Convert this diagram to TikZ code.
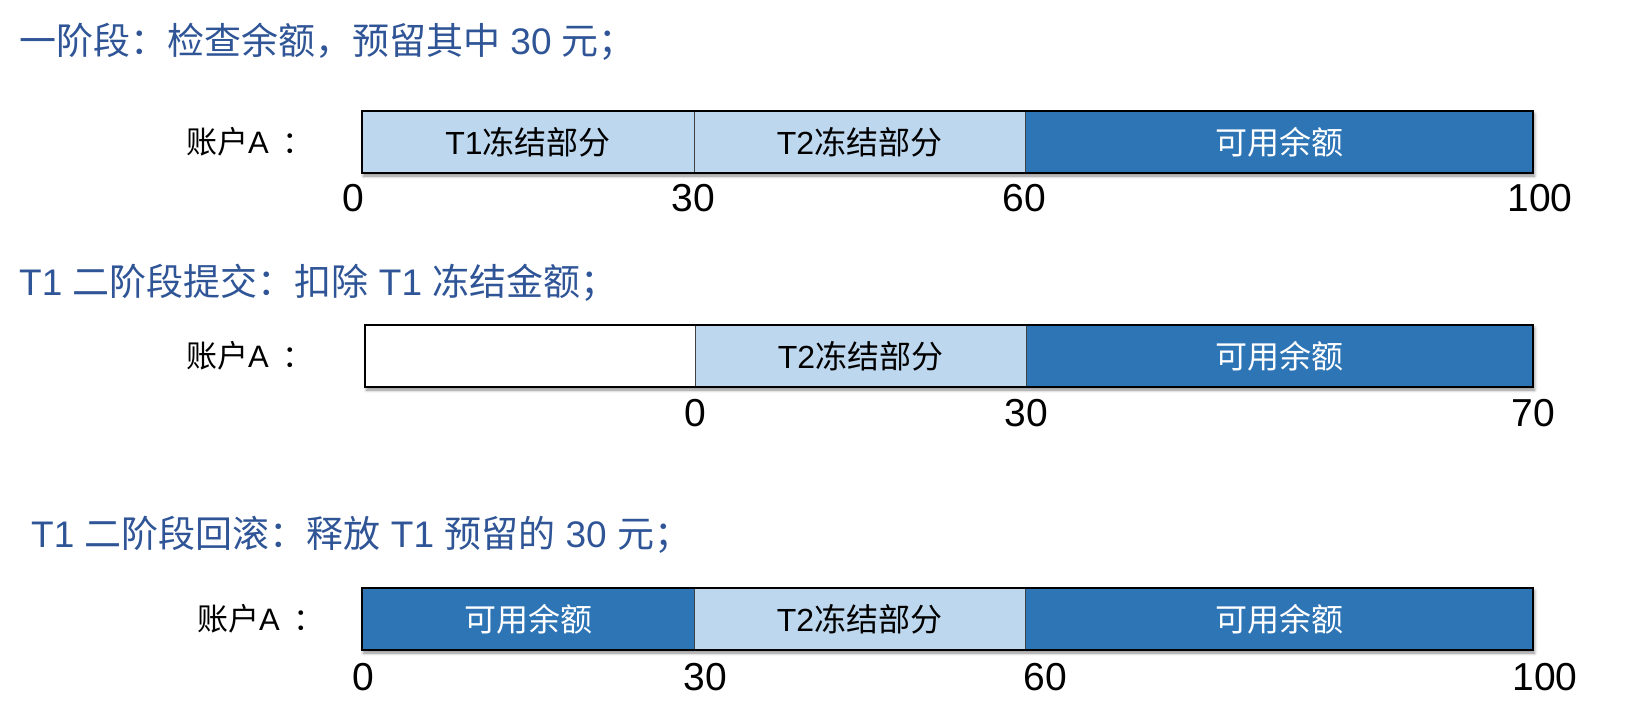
\documentclass[tikz,border=0pt]{standalone}
\usepackage{fontspec}
\setmainfont{Liberation Sans}
\newfontfamily\cjk{Noto Sans CJK SC}
\newfontfamily\numfont{Liberation Sans}
\usetikzlibrary{shadows.blur}
\definecolor{lightseg}{HTML}{BDD7EE}
\definecolor{darkseg}{HTML}{2E75B6}
\definecolor{titleblue}{HTML}{2F5597}
\tikzset{
  frame/.style={draw=black, line width=1.6pt, inner sep=0pt, outer sep=0pt, anchor=north west,
    minimum height=62pt, blur shadow={shadow xshift=1.5pt, shadow yshift=-3pt, shadow blur radius=3pt, shadow opacity=45}},
  seg/.style={draw=black!75, line width=0.8pt, inner sep=0pt, outer sep=0pt, anchor=north west,
    minimum height=62pt, font=\fontsize{32}{34}\selectfont},
  lseg/.style={seg, fill=lightseg, text=black},
  dseg/.style={seg, fill=darkseg, text=white},
  wseg/.style={seg, fill=white},
  title/.style={anchor=west, inner sep=0pt, text=titleblue, font=\fontsize{37}{40}\selectfont},
  acct/.style={anchor=west, inner sep=0pt, text=black, font=\fontsize{31}{34}\selectfont},
  num/.style={inner sep=0pt, text=black, font=\fontsize{39}{42}\numfont},
}
\begin{document}
\begin{tikzpicture}[x=1pt,y=-1pt]
\useasboundingbox (0,0) rectangle (1627,716);
% ---- row 1
\node[title] (t1) at (19,42) {{\cjk 一阶段：检查余额，预留其中} 30 {\cjk 元；}};
\node[acct] (a1) at (186,142) {{\cjk 账户}A\, {\cjk ：}};
\node[frame, minimum width=1171pt] (f1) at (362,111) {};
\node[lseg, minimum width=332pt] (s11) at (362,111) {T1{\cjk 冻结部分}};
\node[lseg, minimum width=331pt] (s12) at (694,111) {T2{\cjk 冻结部分}};
\node[dseg, minimum width=508pt] (s13) at (1025,111) {\cjk 可用余额};
\draw[line width=1.6pt] (f1.north west) rectangle (f1.south east);
\node[num] (n10) at (353,198) {0};
\node[num] (n11) at (693,198) {30};
\node[num] (n12) at (1024,198) {60};
\node[num] (n13) at (1540,198) {100};
% ---- row 2
\node[title] (t2) at (19,283) {T1 {\cjk 二阶段提交：扣除} T1 {\cjk 冻结金额；}};
\node[acct] (a2) at (186,356) {{\cjk 账户}A\, {\cjk ：}};
\node[frame, minimum width=1168pt] (f2) at (365,325) {};
\node[wseg, minimum width=330pt] (s21) at (365,325) {};
\node[lseg, minimum width=331pt] (s22) at (695,325) {T2{\cjk 冻结部分}};
\node[dseg, minimum width=507pt] (s23) at (1026,325) {\cjk 可用余额};
\draw[line width=1.6pt] (f2.north west) rectangle (f2.south east);
\node[num] (n21) at (695,413) {0};
\node[num] (n22) at (1026,413) {30};
\node[num] (n23) at (1533,413) {70};
% ---- row 3
\node[title] (t3) at (31,535) {T1 {\cjk 二阶段回滚：释放} T1 {\cjk 预留的} 30 {\cjk 元；}};
\node[acct] (a3) at (197,619) {{\cjk 账户}A\, {\cjk ：}};
\node[frame, minimum width=1171pt] (f3) at (362,588) {};
\node[dseg, minimum width=332pt] (s31) at (362,588) {\cjk 可用余额};
\node[lseg, minimum width=331pt] (s32) at (694,588) {T2{\cjk 冻结部分}};
\node[dseg, minimum width=508pt] (s33) at (1025,588) {\cjk 可用余额};
\draw[line width=1.6pt] (f3.north west) rectangle (f3.south east);
\node[num] (n30) at (363,677) {0};
\node[num] (n31) at (705,677) {30};
\node[num] (n32) at (1045,677) {60};
\node[num] (n33) at (1545,677) {100};
\end{tikzpicture}
\end{document}
